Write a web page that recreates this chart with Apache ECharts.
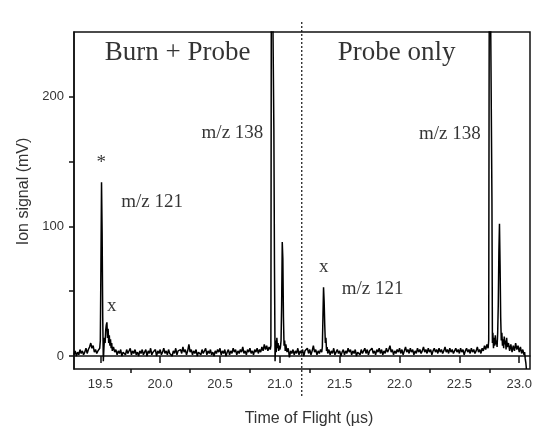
<!DOCTYPE html>
<html>
<head>
<meta charset="utf-8">
<script src="https://cdn.jsdelivr.net/npm/echarts@6/dist/echarts.min.js"></script>
<style>
  html, body { margin: 0; padding: 0; background: #fff; }
  #main { width: 533px; height: 429px; }
</style>
</head>
<body>
<div id="main"></div>
<script>
// 时间 (µs) / 信号 (mV) —— 各段数据
var leadIn = [[19.28,1],[19.29,4],[19.30,0],[19.31,3],[19.32,1],[19.33,5],[19.34,2],[19.35,4],[19.36,1],[19.37,3],[19.38,6],[19.39,2],[19.40,5],[19.41,7],[19.42,10],[19.43,6],[19.44,8],[19.45,3],[19.46,5],[19.47,2],[19.48,4],[19.49,3],[19.495,6]];
var burnPeak121 = [[19.50,12],[19.505,70],[19.51,134],[19.515,95],[19.52,30],[19.525,-4],[19.53,6],[19.535,14],[19.54,10],[19.545,20],[19.55,24],[19.555,26],[19.56,14],[19.565,21],[19.57,10],[19.575,16],[19.58,8],[19.585,13],[19.59,6],[19.595,10],[19.60,4],[19.61,7],[19.62,3]];
var burnBaseline = [[19.63,5],[19.64,1],[19.65,4],[19.66,2],[19.67,5],[19.68,0],[19.69,3],[19.70,4],[19.71,1],[19.72,5],[19.73,2],[19.74,3],[19.75,6],[19.76,1],[19.77,4],[19.78,2],[19.79,5],[19.80,1],[19.81,3],[19.82,0],[19.83,4],[19.84,2],[19.85,5],[19.86,1],[19.87,3],[19.88,5],[19.89,0],[19.90,4],[19.91,2],[19.92,6],[19.93,1],[19.94,3],[19.95,2],[19.96,5],[19.97,0],[19.98,4],[19.99,2],[20.00,5],[20.01,1],[20.02,3],[20.03,6],[20.04,2],[20.05,4],[20.06,1],[20.07,5],[20.08,2],[20.09,3],[20.10,0],[20.11,4],[20.12,2],[20.13,6],[20.14,1],[20.15,4],[20.16,3],[20.17,5],[20.18,2],[20.19,7],[20.20,3],[20.21,5],[20.22,1],[20.23,4],[20.24,9],[20.25,3],[20.26,5],[20.27,1],[20.28,4],[20.29,2],[20.30,5],[20.31,0],[20.32,3],[20.33,4],[20.34,1],[20.35,5],[20.36,2],[20.37,3],[20.38,6],[20.39,1],[20.40,4],[20.41,2],[20.42,5],[20.43,1],[20.44,3],[20.45,0],[20.46,4],[20.47,2],[20.48,5],[20.49,3],[20.50,6],[20.51,1],[20.52,4],[20.53,2],[20.54,5],[20.55,0],[20.56,3],[20.57,5],[20.58,1],[20.59,4],[20.60,2],[20.61,6],[20.62,3],[20.63,5],[20.64,1],[20.65,4],[20.66,2],[20.67,5],[20.68,3],[20.69,7],[20.70,2],[20.71,4],[20.72,1],[20.73,5],[20.74,3],[20.75,6],[20.76,2],[20.77,4],[20.78,1],[20.79,5],[20.80,3],[20.81,6],[20.82,2],[20.83,5],[20.84,3],[20.85,7],[20.86,4],[20.87,9],[20.88,5],[20.89,8],[20.90,4],[20.91,7],[20.92,5],[20.925,8]];
var burnPeak138 = [[20.93,380],[20.945,380],[20.95,175],[20.955,70],[20.96,-4],[20.965,12],[20.97,3],[20.975,14],[20.98,6],[20.985,10],[20.99,4],[20.995,8],[21.00,5],[21.005,7],[21.01,12],[21.015,40],[21.02,88],[21.025,75],[21.03,30],[21.035,8],[21.04,12],[21.045,4],[21.05,9],[21.06,3]];
var midBaseline = [[21.07,6],[21.08,-1],[21.09,4],[21.10,2],[21.11,5],[21.12,1],[21.13,4],[21.14,2],[21.15,6],[21.16,1],[21.17,4],[21.18,2],[21.19,5],[21.20,0],[21.21,4],[21.22,3],[21.23,6],[21.24,2],[21.25,5],[21.26,1],[21.27,4],[21.28,8],[21.29,3],[21.30,5],[21.31,1],[21.32,4],[21.33,2],[21.34,5],[21.35,3],[21.355,7]];
var probePeak121 = [[21.36,30],[21.365,53],[21.37,42],[21.375,24],[21.38,10],[21.385,14],[21.39,4],[21.395,7],[21.40,2]];
var probeBaseline = [[21.41,5],[21.42,1],[21.43,4],[21.44,2],[21.45,6],[21.46,1],[21.47,3],[21.48,5],[21.49,2],[21.50,4],[21.51,0],[21.52,3],[21.53,5],[21.54,1],[21.55,4],[21.56,2],[21.57,6],[21.58,3],[21.59,5],[21.60,1],[21.61,4],[21.62,2],[21.63,5],[21.64,0],[21.65,3],[21.66,4],[21.67,1],[21.68,5],[21.69,2],[21.70,4],[21.71,6],[21.72,2],[21.73,5],[21.74,1],[21.75,4],[21.76,3],[21.77,6],[21.78,2],[21.79,4],[21.80,1],[21.81,5],[21.82,3],[21.83,6],[21.84,2],[21.85,5],[21.86,1],[21.87,4],[21.88,2],[21.89,6],[21.90,3],[21.91,5],[21.92,8],[21.93,3],[21.94,5],[21.95,1],[21.96,4],[21.97,2],[21.98,5],[21.99,3],[22.00,6],[22.01,2],[22.02,5],[22.03,1],[22.04,4],[22.05,7],[22.06,3],[22.07,5],[22.08,2],[22.09,6],[22.10,3],[22.11,5],[22.12,1],[22.13,4],[22.14,2],[22.15,6],[22.16,3],[22.17,5],[22.18,2],[22.19,4],[22.20,7],[22.21,3],[22.22,5],[22.23,2],[22.24,6],[22.25,3],[22.26,5],[22.27,1],[22.28,4],[22.29,6],[22.30,3],[22.31,5],[22.32,2],[22.33,6],[22.34,3],[22.35,5],[22.36,2],[22.37,4],[22.38,7],[22.39,3],[22.40,5],[22.41,2],[22.42,6],[22.43,3],[22.44,5],[22.45,2],[22.46,4],[22.47,6],[22.48,3],[22.49,5],[22.50,2],[22.51,6],[22.52,3],[22.53,5],[22.54,1],[22.55,4],[22.56,6],[22.57,3],[22.58,5],[22.59,2],[22.60,6],[22.61,3],[22.62,5],[22.63,2],[22.64,4],[22.65,7],[22.66,3],[22.67,5],[22.68,2],[22.69,6],[22.70,4],[22.71,8],[22.72,5],[22.73,9],[22.74,6],[22.745,12]];
var probePeak138 = [[22.748,198],[22.752,380],[22.768,380],[22.772,120],[22.776,10],[22.78,18],[22.785,6],[22.79,14],[22.795,8],[22.80,16],[22.805,9],[22.81,12],[22.815,7],[22.82,18],[22.825,40],[22.83,80],[22.835,102],[22.84,70],[22.845,30],[22.85,12],[22.855,18],[22.86,8],[22.865,13],[22.87,6],[22.875,15],[22.88,9],[22.885,12],[22.89,5],[22.895,14],[22.90,7]];
var tail = [[22.91,10],[22.92,4],[22.93,9],[22.94,3],[22.95,8],[22.96,4],[22.97,10],[22.98,5],[22.99,8],[23.00,3],[23.01,7],[23.02,2],[23.03,5],[23.04,1],[23.045,3],[23.05,-2],[23.055,-5],[23.06,-10]];

// 坐标轴刻度
var xLabelTicks = [19.5, 20.0, 20.5, 21.0, 21.5, 22.0, 22.5, 23.0];
var xMinorTicks = [19.75, 20.25, 20.75, 21.25, 21.75, 22.25, 22.75];
var yTicks = [0, 50, 100, 150, 200];
var yLabelTicks = [0, 100, 200];

// 图中标注 (文字 / 时间 / 信号)
var noteTexts = ['Burn + Probe', 'Probe only', 'm/z 138', 'm/z 121', '*', 'x', 'x', 'm/z 121', 'm/z 138'];
var noteTimes = [20.146, 21.975, 20.604, 19.933, 19.508, 19.596, 21.367, 21.775, 22.421];
var noteSignals = [233.5, 233.5, 172, 118.5, 149, 38.5, 69, 52, 171];
var noteSizes = [27, 27, 19, 19, 19, 19, 19, 19, 19];

var dividerTime = 21.183;

var trace = [].concat(leadIn, burnPeak121, burnBaseline, burnPeak138, midBaseline,
  probePeak121, probeBaseline, probePeak138, tail);

var notes = noteTexts.map(function (t, i) {
  return {
    value: [noteTimes[i], noteSignals[i]],
    label: { formatter: t, fontSize: noteSizes[i] }
  };
});

var myChart = echarts.init(document.getElementById('main'));

var sansFont = 'Liberation Sans, Arial, sans-serif';

var option = {
  animation: false,
  backgroundColor: '#fff',
  grid: {
    left: 74, right: 3, top: 32, bottom: 60,
    containLabel: false,
    outerBoundsMode: 'none',
    show: true, borderColor: '#111', borderWidth: 1.5, backgroundColor: 'transparent'
  },
  xAxis: [{
    type: 'value',
    min: 19.28, max: 23.09,
    position: 'bottom',
    name: 'Time of Flight (µs)',
    nameLocation: 'middle',
    nameGap: 42,
    nameTextStyle: { color: '#333', fontFamily: sansFont, fontSize: 16, padding: [0, 0, 0, 14] },
    axisLine: { show: true, lineStyle: { color: '#111', width: 1.5 } },
    axisTick: { show: true, customValues: xLabelTicks, length: 7, lineStyle: { color: '#111', width: 1.5 } },
    axisLabel: {
      show: true, customValues: xLabelTicks, margin: 9,
      color: '#333', fontFamily: sansFont, fontSize: 13,
      formatter: function (v) { return v.toFixed(1); }
    },
    splitLine: { show: false }
  }, {
    type: 'value',
    min: 19.28, max: 23.09,
    position: 'bottom',
    offset: 0,
    axisLine: { show: false },
    axisTick: { show: true, customValues: xMinorTicks, length: 4, lineStyle: { color: '#111', width: 1.5 } },
    axisLabel: { show: false },
    splitLine: { show: false }
  }],
  yAxis: {
    type: 'value',
    min: -10, max: 250,
    name: 'Ion signal (mV)',
    nameLocation: 'middle',
    nameGap: 40,
    nameTextStyle: { color: '#333', fontFamily: sansFont, fontSize: 16, padding: [0, 0, 0, 18] },
    axisLine: { show: true, lineStyle: { color: '#111', width: 1.5 } },
    axisTick: { show: true, customValues: yTicks, length: 5, lineStyle: { color: '#111', width: 1.5 } },
    axisLabel: {
      show: true, customValues: yLabelTicks, margin: 10,
      color: '#333', fontFamily: sansFont, fontSize: 13
    },
    splitLine: { show: false }
  },
  series: [{
    type: 'line',
    data: trace,
    xAxisIndex: 0,
    showSymbol: false,
    symbol: 'none',
    clip: true,
    lineStyle: { color: '#000', width: 1.5 },
    z: 3
  }, {
    type: 'scatter',
    data: notes,
    xAxisIndex: 0,
    symbolSize: 0,
    silent: true,
    label: {
      show: true, position: 'inside',
      color: '#000', fontFamily: 'Liberation Serif, Times New Roman, serif'
    },
    z: 5
  }]
};

myChart.setOption(option);

// 分隔虚线：穿过坐标系上下边框
var xPix = myChart.convertToPixel({ xAxisIndex: 0 }, dividerTime);
var yTop = myChart.convertToPixel({ yAxisIndex: 0 }, 250);
var yBottom = myChart.convertToPixel({ yAxisIndex: 0 }, -10);
myChart.setOption({
  graphic: [{
    type: 'line',
    shape: { x1: xPix, y1: yTop - 10, x2: xPix, y2: yBottom + 28 },
    style: { stroke: '#111', lineWidth: 1.2, lineDash: [2, 2] },
    z: 10
  }]
});
</script>
</body>
</html>
